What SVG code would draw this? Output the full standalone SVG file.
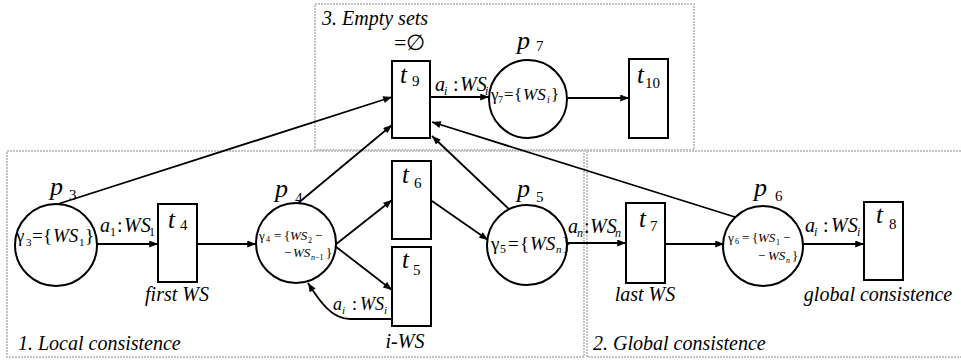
<svg xmlns="http://www.w3.org/2000/svg" width="961" height="362" viewBox="0 0 961 362" font-family="'Liberation Serif', 'Times New Roman', 'DejaVu Serif', serif">
<style>
text{font-family:'Liberation Serif','Times New Roman','DejaVu Serif',serif;fill:#000}
.it{font-style:italic}
.ln{stroke:#000;stroke-width:1.8;fill:none}
.nd{stroke:#000;stroke-width:2;fill:#fff}
.sec{fill:none;stroke:#c4c4c4;stroke-width:2;stroke-dasharray:2 1}
.pl{font-size:26px;font-style:italic}
.tl{font-size:25px;font-style:italic}
.sb{font-size:15px}
.lb{font-size:20px;font-style:italic}
</style>
<defs>
<marker id="ah" viewBox="0 0 10 8" refX="10" refY="4" markerWidth="10" markerHeight="7" markerUnits="userSpaceOnUse" orient="auto"><path d="M0,0 L10,4 L0,8 z" fill="#000"/></marker>
</defs>
<g id="regions">
<rect class="sec" x="315" y="4" width="379" height="146"/>
<rect class="sec" x="7" y="151" width="577" height="206"/>
<rect class="sec" x="587" y="151" width="380" height="206"/>
<text class="lb" x="322" y="25">3. Empty sets</text>
<text class="lb" x="18" y="350">1. Local consistence</text>
<text class="lb" x="593" y="350">2. Global consistence</text>
</g>
<g id="connectors">
<line class="ln" x1="97" y1="244" x2="158" y2="244" marker-end="url(#ah)"/>
<line class="ln" x1="197" y1="244" x2="256" y2="244" marker-end="url(#ah)"/>
<line class="ln" x1="58" y1="204" x2="392" y2="97" marker-end="url(#ah)"/>
<line class="ln" x1="297" y1="204" x2="392" y2="125" marker-end="url(#ah)"/>
<line class="ln" x1="335" y1="245" x2="392" y2="200" marker-end="url(#ah)"/>
<line class="ln" x1="335" y1="246" x2="392" y2="290" marker-end="url(#ah)"/>
<path class="ln" d="M392,319 L350,319 C332,319 320,302 308,283" marker-end="url(#ah)"/>
<line class="ln" x1="432" y1="201" x2="488" y2="240" marker-end="url(#ah)"/>
<line class="ln" x1="510" y1="210" x2="432" y2="136" marker-end="url(#ah)"/>
<line class="ln" x1="735" y1="217" x2="432" y2="122" marker-end="url(#ah)"/>
<line class="ln" x1="567" y1="243" x2="626" y2="243" marker-end="url(#ah)"/>
<line class="ln" x1="665" y1="244" x2="724" y2="244" marker-end="url(#ah)"/>
<line class="ln" x1="803" y1="244" x2="864" y2="244" marker-end="url(#ah)"/>
<line class="ln" x1="430" y1="97" x2="489" y2="97" marker-end="url(#ah)"/>
<line class="ln" x1="568" y1="98" x2="629" y2="98" marker-end="url(#ah)"/>
<text font-size="20"><tspan class="it" x="100" y="232">a</tspan><tspan x="110" y="236" font-size="12">1</tspan><tspan x="117" y="232">:</tspan><tspan class="it" x="124" y="232">WS</tspan><tspan x="149" y="236" font-size="12">1</tspan></text>
<text font-size="20"><tspan class="it" x="435" y="91">a</tspan><tspan class="it" x="444" y="95" font-size="12">i</tspan><tspan x="453" y="91">:</tspan><tspan class="it" x="460" y="91">WS</tspan><tspan class="it" x="485" y="95" font-size="12">i</tspan></text>
<text font-size="20"><tspan class="it" x="568" y="233">a</tspan><tspan class="it" x="577" y="237" font-size="12">n</tspan><tspan x="584" y="233">:</tspan><tspan class="it" x="590" y="233">WS</tspan><tspan class="it" x="615" y="237" font-size="12">n</tspan></text>
<text font-size="20"><tspan class="it" x="805" y="232">a</tspan><tspan class="it" x="814" y="236" font-size="12">i</tspan><tspan x="823" y="232">:</tspan><tspan class="it" x="831" y="232">WS</tspan><tspan class="it" x="857" y="236" font-size="12">i</tspan></text>
<text font-size="18"><tspan class="it" x="333" y="310">a</tspan><tspan class="it" x="342" y="314" font-size="11">i</tspan><tspan x="352" y="310">:</tspan><tspan class="it" x="360" y="310">WS</tspan><tspan class="it" x="384" y="314" font-size="11">i</tspan></text>
</g>
<g id="p3">
<circle class="nd" cx="56" cy="245" r="41"/>
<text class="pl" x="50" y="195">p</text><text class="sb" x="69" y="200">3</text>
<text font-size="19"><tspan x="16" y="242">γ</tspan><tspan x="26" y="246" font-size="11">3</tspan><tspan x="32" y="242">=</tspan><tspan x="43" y="242">{</tspan><tspan class="it" x="53" y="242">WS</tspan><tspan x="79" y="246" font-size="11">1</tspan><tspan x="85" y="242">}</tspan></text>
</g>
<g id="t4">
<rect class="nd" x="158" y="204" width="39" height="78"/>
<text class="tl" x="168" y="228">t</text><text class="sb" x="180" y="230">4</text>
<text class="lb" x="177" y="301" text-anchor="middle">first WS</text>
</g>
<g id="p4">
<circle class="nd" cx="296" cy="243" r="40"/>
<text class="pl" x="275" y="197">p</text><text class="sb" x="295" y="203">4</text>
<text font-size="13"><tspan x="259" y="240">γ</tspan><tspan x="266" y="242" font-size="8">4</tspan><tspan x="274" y="240">=</tspan><tspan x="284" y="240">{</tspan><tspan class="it" x="290" y="240">WS</tspan><tspan x="308" y="243" font-size="8">2</tspan><tspan x="315" y="240">−</tspan></text>
<text font-size="13"><tspan x="284" y="257">−</tspan><tspan class="it" x="293" y="257">WS</tspan><tspan class="it" x="311" y="260" font-size="8">n</tspan><tspan x="315" y="260" font-size="8">−1</tspan><tspan x="326" y="257">}</tspan></text>
</g>
<g id="t6">
<rect class="nd" x="392" y="161" width="39" height="78"/>
<text class="tl" x="402" y="183">t</text><text class="sb" x="414" y="188">6</text>
</g>
<g id="t5">
<rect class="nd" x="392" y="247" width="39" height="79"/>
<text class="tl" x="402" y="268">t</text><text class="sb" x="413" y="275">5</text>
<text class="lb" x="405" y="348" text-anchor="middle">i-WS</text>
</g>
<g id="t9">
<rect class="nd" x="392" y="61" width="38" height="77"/>
<text class="tl" x="400" y="83">t</text><text class="sb" x="412" y="86">9</text>
<text font-size="22" x="394" y="50">=∅</text>
</g>
<g id="p7">
<circle class="nd" cx="528" cy="99" r="39"/>
<text class="pl" x="517" y="49">p</text><text class="sb" x="536" y="51">7</text>
<text font-size="17"><tspan x="491" y="100">γ</tspan><tspan x="498" y="103" font-size="10">7</tspan><tspan x="504" y="100">=</tspan><tspan x="514" y="100">{</tspan><tspan class="it" x="523" y="100">WS</tspan><tspan class="it" x="547" y="103" font-size="10">i</tspan><tspan x="551" y="100">}</tspan></text>
</g>
<g id="t10">
<rect class="nd" x="629" y="59" width="39" height="79"/>
<text class="tl" x="637" y="83">t</text><text class="sb" x="645" y="88">10</text>
</g>
<g id="p5">
<circle class="nd" cx="527" cy="245" r="40"/>
<text class="pl" x="517" y="197">p</text><text class="sb" x="536" y="202">5</text>
<text font-size="19"><tspan x="491" y="250">γ</tspan><tspan x="500" y="253" font-size="12">5</tspan><tspan x="508" y="250">=</tspan><tspan x="520" y="250">{</tspan><tspan class="it" x="530" y="250">WS</tspan><tspan class="it" x="556" y="253" font-size="11">n</tspan><tspan x="562" y="250">}</tspan></text>
</g>
<g id="t7">
<rect class="nd" x="626" y="203" width="39" height="80"/>
<text class="tl" x="639" y="227">t</text><text class="sb" x="650" y="231">7</text>
<text class="lb" x="645" y="301" text-anchor="middle">last WS</text>
</g>
<g id="p6">
<circle class="nd" cx="763" cy="246" r="40"/>
<text class="pl" x="754" y="196">p</text><text class="sb" x="775" y="201">6</text>
<text font-size="13"><tspan x="728" y="242">γ</tspan><tspan x="735" y="244" font-size="8">6</tspan><tspan x="742" y="242">=</tspan><tspan x="752" y="242">{</tspan><tspan class="it" x="758" y="242">WS</tspan><tspan x="776" y="245" font-size="8">1</tspan><tspan x="783" y="242">−</tspan></text>
<text font-size="13"><tspan x="758" y="260">−</tspan><tspan class="it" x="768" y="260">WS</tspan><tspan class="it" x="786" y="263" font-size="8">n</tspan><tspan x="792" y="260">}</tspan></text>
</g>
<g id="t8">
<rect class="nd" x="864" y="202" width="39" height="78"/>
<text class="tl" x="876" y="223">t</text><text class="sb" x="889" y="229">8</text>
<text class="lb" x="878" y="301" text-anchor="middle" font-size="22">global consistence</text>
</g>
</svg>
